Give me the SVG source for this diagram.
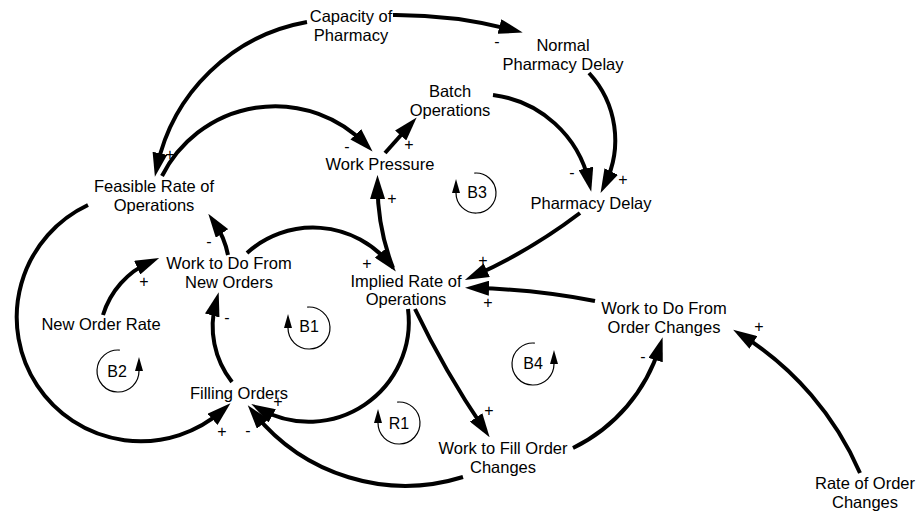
<svg xmlns="http://www.w3.org/2000/svg" width="917" height="512" viewBox="0 0 917 512">
<style>
  text { font-family: "Liberation Sans", Arial, sans-serif; fill: #000; }
  .node text { font-size: 16.5px; text-anchor: middle; }
  .sign { font-size: 16px; text-anchor: middle; fill: #000; }
  .link { fill: none; stroke: #000; stroke-width: 4; marker-end: url(#arrow); }
  .loop path { fill: none; stroke: #000; stroke-width: 1.2; marker-end: url(#loopArrow); }
  .loop text { font-size: 16px; text-anchor: middle; }
</style>
<defs>
  <marker id="arrow" viewBox="0 0 24 15" refX="14" refY="7.5" markerWidth="24" markerHeight="15" markerUnits="userSpaceOnUse" orient="auto">
    <path d="M0,0 L24,7.5 L0,15 Z" fill="#000"/>
  </marker>
  <marker id="loopArrow" viewBox="0 0 14 8" refX="0" refY="4" markerWidth="14" markerHeight="8" markerUnits="userSpaceOnUse" orient="auto">
    <path d="M0,0 L14,4 L0,8 Z" fill="#000"/>
  </marker>
</defs>
<rect width="917" height="512" fill="#fff"/>

<!-- causal links -->
<g id="links">
  <path class="link" d="M307,22 A187,187 0 0 0 157,167"/>
  <path class="link" d="M393,15 A464,464 0 0 1 513,30"/>
  <path class="link" d="M589,73 A99,99 0 0 1 605,184"/>
  <path class="link" d="M493,95 A113,113 0 0 1 589,182"/>
  <path class="link" d="M385,153 L410,125"/>
  <path class="link" d="M162,176 A126.5,126.5 0 0 1 365.6,144.3"/>
  <path class="link" d="M393,268 A234,234 0 0 1 377.5,185"/>
  <path class="link" d="M580,213 A545,545 0 0 1 474,276"/>
  <path class="link" d="M595,301 A712,712 0 0 0 475,288"/>
  <path class="link" d="M247,253 A98.8,98.8 0 0 1 389.5,263.7"/>
  <path class="link" d="M228,255 A87,87 0 0 0 214,222"/>
  <path class="link" d="M103,315 A85,85 0 0 1 150,262"/>
  <path class="link" d="M232,382 A90,90 0 0 1 216,302"/>
  <path class="link" d="M88,205 A124,124 0 1 0 223,410"/>
  <path class="link" d="M408,309 A100,100 0 0 1 260,409"/>
  <path class="link" d="M463,477 A194,194 0 0 1 254,413"/>
  <path class="link" d="M415,309 A919,919 0 0 0 484,429"/>
  <path class="link" d="M573,448 A166.7,166.7 0 0 0 659.7,346.7"/>
  <path class="link" d="M860,473 A307,307 0 0 0 741.6,335"/>

  <!-- polarity signs -->
  <text class="sign" x="170" y="160">+</text>
  <text class="sign" x="497" y="47">-</text>
  <text class="sign" x="623" y="185">+</text>
  <text class="sign" x="572" y="178">-</text>
  <text class="sign" x="409" y="150">+</text>
  <text class="sign" x="347" y="152">-</text>
  <text class="sign" x="392" y="204">+</text>
  <text class="sign" x="483" y="266">+</text>
  <text class="sign" x="488" y="308">+</text>
  <text class="sign" x="367" y="269">+</text>
  <text class="sign" x="209" y="247">-</text>
  <text class="sign" x="144" y="287">+</text>
  <text class="sign" x="227" y="323">-</text>
  <text class="sign" x="222" y="437">+</text>
  <text class="sign" x="278" y="407">+</text>
  <text class="sign" x="248" y="436">-</text>
  <text class="sign" x="489" y="416">+</text>
  <text class="sign" x="643" y="362">-</text>
  <text class="sign" x="759" y="332">+</text>
</g>

<!-- variables -->
<g id="capacity-of-pharmacy" class="node"><text x="351" y="22">Capacity of</text><text x="351" y="41">Pharmacy</text></g>
<g id="normal-pharmacy-delay" class="node"><text x="563" y="51">Normal</text><text x="563" y="70">Pharmacy Delay</text></g>
<g id="batch-operations" class="node"><text x="450" y="97">Batch</text><text x="450" y="116">Operations</text></g>
<g id="work-pressure" class="node"><text x="380" y="170">Work Pressure</text></g>
<g id="pharmacy-delay" class="node"><text x="591" y="209">Pharmacy Delay</text></g>
<g id="feasible-rate-of-operations" class="node"><text x="154" y="192">Feasible Rate of</text><text x="154" y="211">Operations</text></g>
<g id="work-to-do-from-new-orders" class="node"><text x="229" y="268.5">Work to Do From</text><text x="229" y="288">New Orders</text></g>
<g id="new-order-rate" class="node"><text x="101" y="330">New Order Rate</text></g>
<g id="filling-orders" class="node"><text x="239" y="398.5">Filling Orders</text></g>
<g id="implied-rate-of-operations" class="node"><text x="406" y="287">Implied Rate of</text><text x="406" y="305">Operations</text></g>
<g id="work-to-do-from-order-changes" class="node"><text x="664" y="314">Work to Do From</text><text x="664" y="333">Order Changes</text></g>
<g id="work-to-fill-order-changes" class="node"><text x="503" y="453.5">Work to Fill Order</text><text x="503" y="472.5">Changes</text></g>
<g id="rate-of-order-changes" class="node"><text x="865" y="488.5">Rate of Order</text><text x="865" y="508">Changes</text></g>

<!-- loop identifiers -->
<g id="loop-b3" class="loop"><path d="M474.3,173.1 A20,20 0 1 1 456,193"/><text x="477" y="197.5">B3</text></g>
<g id="loop-b1" class="loop"><path d="M307.2,307.1 A21,21 0 1 1 288,328"/><text x="309" y="332">B1</text></g>
<g id="loop-r1" class="loop"><path d="M397.2,402.1 A21,21 0 1 1 378,423"/><text x="399" y="429">R1</text></g>
<g id="loop-b2" class="loop"><path d="M119.8,350.1 A21,21 0 1 0 139,371"/><text x="117" y="376.5">B2</text></g>
<g id="loop-b4" class="loop"><path d="M534.8,343.1 A21,21 0 1 0 554,364"/><text x="533" y="369">B4</text></g>
</svg>
